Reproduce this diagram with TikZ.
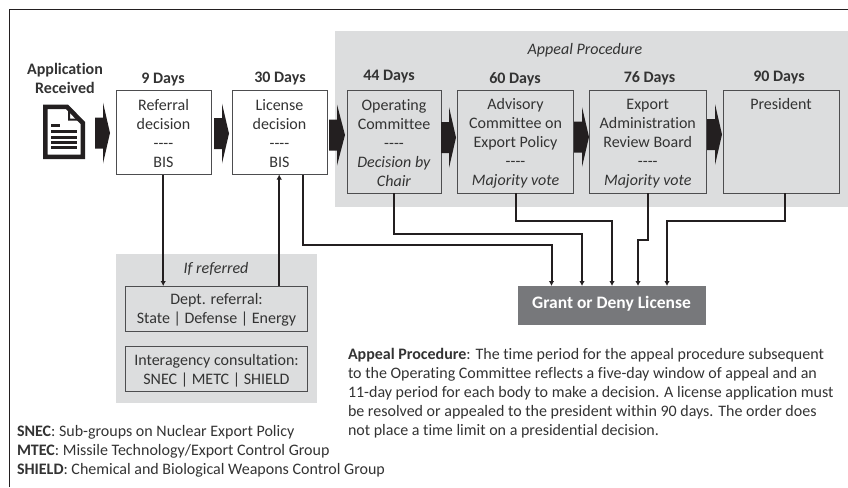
\documentclass[tikz,border=0pt]{standalone}
\usepackage{fontspec}
\setmainfont{Carlito}[Ligatures=NoCommon]
\usetikzlibrary{arrows.meta}
\definecolor{panel}{HTML}{DCDDDE}
\definecolor{ink}{HTML}{231F20}
\definecolor{txtc}{HTML}{333333}
\definecolor{edgec}{HTML}{4D4D4F}
\definecolor{grantc}{HTML}{77787B}
\newcommand{\dashes}{-{}-{}-{}-}
\newcommand{\topgap}{\rule{0pt}{14pt}}
\tikzset{
  x=1pt,y=-1pt,
  every node/.style={font=\fontsize{16}{19}\selectfont,text=txtc,inner sep=0pt,outer sep=0pt},
  panelbox/.style={fill=panel,draw=none},
  stepbox/.style={draw=edgec,line width=1pt,align=center,minimum width=#1,minimum height=84pt},
  tallbox/.style={draw=edgec,line width=1pt,align=center,minimum width=116.5pt,minimum height=103pt},
  refbox/.style={draw=edgec,line width=1pt,align=center,minimum width=182pt,minimum height=45pt},
  daylabel/.style={font=\fontsize{16}{19}\selectfont\bfseries},
  conn/.style={draw=ink,line width=2pt,line cap=butt},
  connarrow/.style={conn,-{Latex[length=5pt,width=5.5pt]}},
  blockarrow/.style={fill=ink,draw=none},
  notetext/.style={align=left,anchor=north west},
}
\newcommand{\blockarr}[4]{% x-start, y-mid, half head, x-tip
  \fill[blockarrow] (#1,#2-15.5) -- (#1+8,#2-15.5) -- (#1+8,#2-#3) -- (#4,#2) -- (#1+8,#2+#3) -- (#1+8,#2+15.5) -- (#1,#2+15.5) -- cycle;}
\begin{document}
\begin{tikzpicture}
\useasboundingbox (0,0) rectangle (848,487);
% frame
\draw[ink,line width=1.6pt] (9.5,487) -- (9.5,9.5) -- (848,9.5);
% panels
\node[panelbox,minimum width=513pt,minimum height=176pt] (appealpanel) at (591.5,119) {};
\node[panelbox,minimum width=201pt,minimum height=149pt] (refpanel) at (216.5,328.5) {};
\node (appealtitle) at (585,50.5) {\itshape Appeal Procedure};
\node (reftitle) at (216,269) {\itshape If referred};
% day labels
\node[align=center,daylabel] (appl) at (65,78.5) {Application\\Received};
\node[daylabel] (d9) at (163,80) {9 Days};
\node[daylabel] (d30) at (280,79) {30 Days};
\node[daylabel] (d44) at (389,77) {44 Days};
\node[daylabel] (d60) at (515,79) {60 Days};
\node[daylabel] (d76) at (649.5,78) {76 Days};
\node[daylabel] (d90) at (779,78) {90 Days};
% boxes
\node[stepbox=95pt,fill=white] (ref) at (163.5,132.5) {\topgap Referral\\decision\\\dashes\\BIS};
\node[stepbox=95pt,fill=white] (lic) at (279.5,132.5) {\topgap License\\decision\\\dashes\\BIS};
\node[tallbox,minimum width=94pt] (op) at (394,141.5) {\topgap Operating\\Committee\\\dashes\\\textit{Decision by}\\\textit{Chair}};
\node[tallbox] (adv) at (515.5,141.5) {\topgap Advisory\\Committee on\\Export Policy\\\dashes\\\textit{Majority vote}};
\node[tallbox] (exp) at (647.75,141.5) {\topgap Export\\Administration\\Review Board\\\dashes\\\textit{Majority vote}};
\node[tallbox] (pres) at (781.25,141.5) {};
\node (prestxt) at (781,104) {President};
\node[refbox] (dept) at (216.5,308.5) {\topgap Dept. referral:\\State | Defense | Energy};
\node[refbox] (inter) at (216.5,369.25) {\topgap Interagency consultation:\\SNEC | METC | SHIELD};
\node[minimum width=188pt,minimum height=39pt,fill=grantc] (grant) at (612,305.5) {};
\node[text=white,font=\fontsize{17.5}{19}\selectfont\bfseries] (granttxt) at (611.5,303.5) {Grant or Deny License};
% block arrows
\blockarr{95}{133}{30.5}{110}
\blockarr{214}{133.5}{30}{229}
\blockarr{329}{135}{30.5}{345}
\blockarr{441}{137.5}{30.5}{456}
\blockarr{574}{137}{30}{589}
\blockarr{707}{134.5}{30.5}{722}
% document icon
\fill[ink,even odd rule] (43,104.5) -- (68,104.5) -- (85,122) -- (85,159) -- (43,159) -- cycle
  (47.5,109) -- (66,109) -- (80.5,124) -- (80.5,154.5) -- (47.5,154.5) -- cycle;
\fill[ink] (68,109) -- (68,120.5) -- (79,120.5) -- (79,118.5) -- (70,118.5) -- (70,111) -- cycle;
\fill[ink] (51,124) rectangle (60,127);
\fill[ink] (51,129.5) rectangle (77,132.5);
\fill[ink] (51,135.5) rectangle (77,138.5);
\fill[ink] (51,141) rectangle (77,144);
\fill[ink] (51,146) rectangle (77,149);
% connectors
\draw[connarrow] ([xshift=-0.3pt]ref.south) -- ([xshift=-0.3pt]ref.south |- dept.north);
\draw[connarrow] ([xshift=-0.3pt]lic.south |- dept.north) -- ([xshift=-0.3pt]lic.south);
\draw[connarrow] ([xshift=23.5pt]lic.south) -- ++(0,70.5) -| ([xshift=-60.5pt]grant.north);
\draw[connarrow] (op.south) -- ++(0,40.5) -| ([xshift=-30pt]grant.north);
\draw[connarrow] (adv.south) -- ++(0,27.5) -| (grant.north);
\draw[connarrow] (exp.south) -- ++(0,47) -| ([xshift=26pt]grant.north);
\draw[connarrow] ([xshift=3.75pt]pres.south) -- ++(0,27.5) -| ([xshift=55pt]grant.north);
% notes
\node[notetext] (appealnote) at (348,348.5) {\textbf{Appeal Procedure}: The time period for the appeal procedure subsequent\\to the Operating Committee reflects a five-day window of appeal and an\\11-day period for each body to make a decision. A license application must\\be resolved or appealed to the president within 90 days. The order does\\not place a time limit on a presidential decision.};
\node[notetext] (legend) at (17,425) {\textbf{SNEC}: Sub-groups on Nuclear Export Policy\\\textbf{MTEC}: Missile Technology/Export Control Group\\\textbf{SHIELD}: Chemical and Biological Weapons Control Group};
\end{tikzpicture}
\end{document}
